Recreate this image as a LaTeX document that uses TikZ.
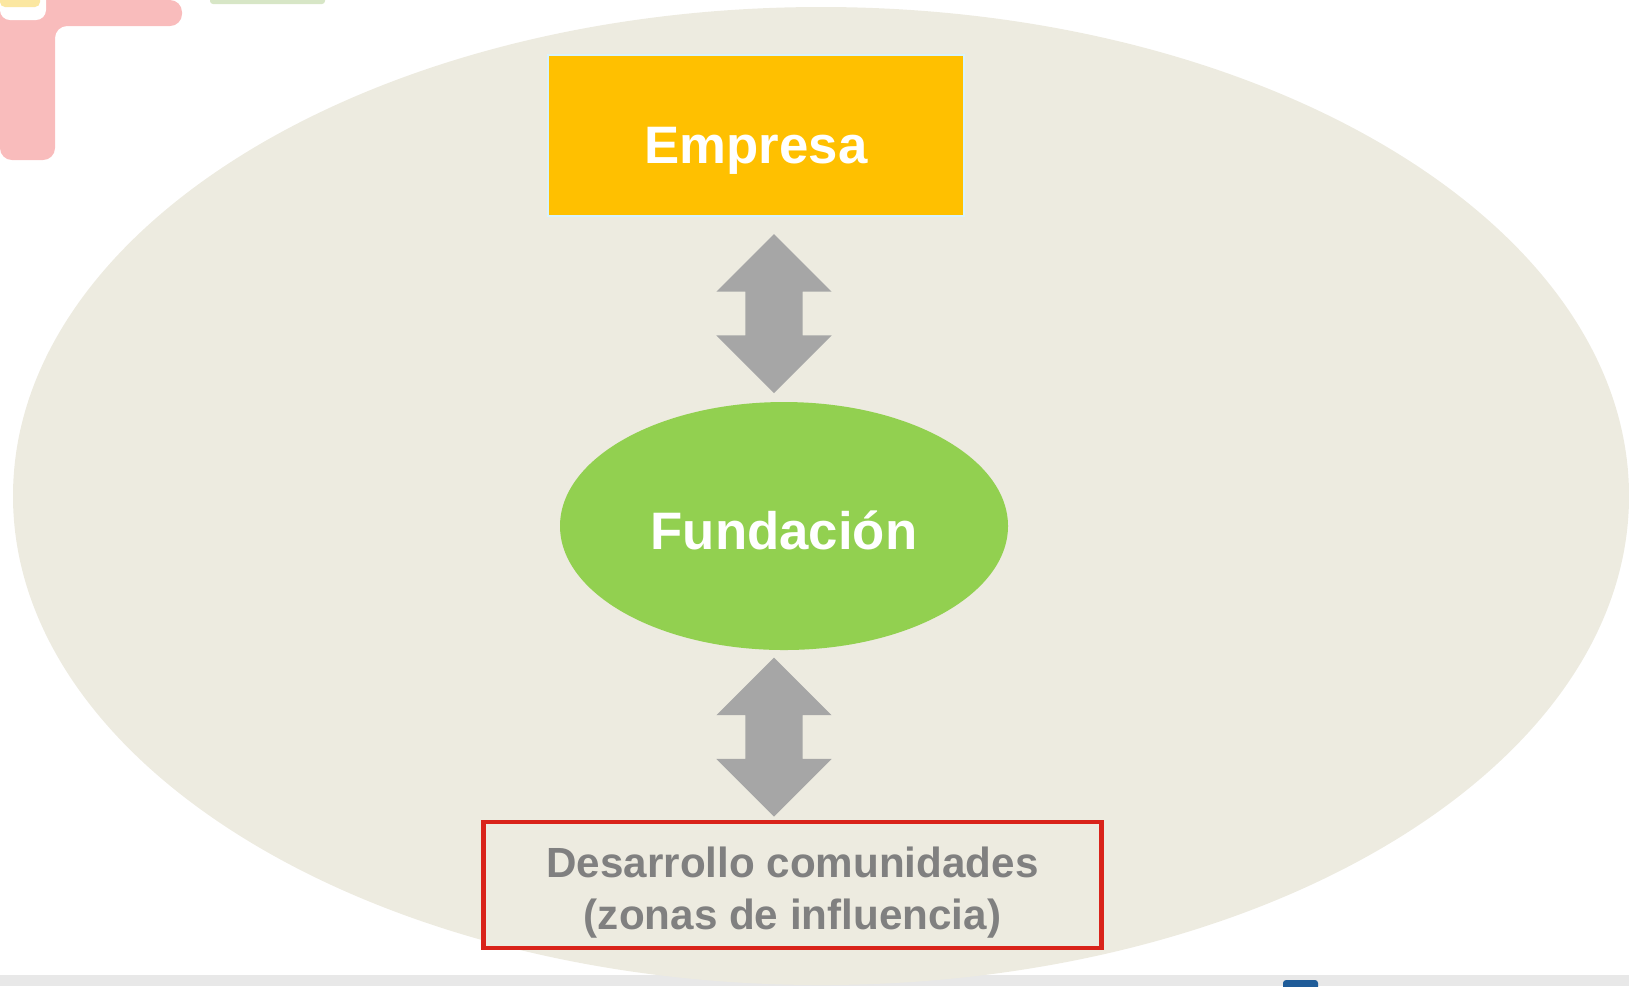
\documentclass[tikz,border=0pt]{standalone}
\usepackage{fontspec}
\setmainfont{Liberation Sans}
\usetikzlibrary{shapes.geometric,shapes.arrows}
\definecolor{beige}{HTML}{EDEBE0}
\definecolor{amber}{HTML}{FFC000}
\definecolor{leaf}{HTML}{92D050}
\definecolor{arrowgrey}{HTML}{A6A6A6}
\definecolor{boxred}{HTML}{D9231A}
\definecolor{textgrey}{HTML}{808080}
\definecolor{softpink}{HTML}{F9BCBC}
\definecolor{softyellow}{HTML}{FBE7A1}
\definecolor{softgreen}{HTML}{D7E6C6}
\definecolor{taskblue}{HTML}{1F5C99}
\begin{document}
\begin{tikzpicture}[
    biglabel/.style={text=white, font=\fontsize{15}{18}\selectfont\bfseries},
    twoway/.style={double arrow, fill=arrowgrey, draw=none, rotate=90,
      minimum height=1.59cm, minimum width=1.14cm,
      double arrow head extend=0.29cm, inner xsep=0pt, inner ysep=0.28cm}
  ]
  \useasboundingbox (0,0) rectangle (16.29,-9.86);
  % slide decoration
  \fill[softpink, rounded corners=0.12cm] (0,0) -- (1.82,0) -- (1.82,-0.26)
    -- (0.55,-0.26) -- (0.55,-1.60) -- (0,-1.60) -- cycle;
  \fill[white, rounded corners=0.1cm] (0,0.1) rectangle (0.46,-0.2);
  \fill[softyellow, rounded corners=0.05cm] (0,0.1) rectangle (0.40,-0.07);
  \fill[softgreen, rounded corners=0.03cm] (2.10,0.1) rectangle (3.25,-0.04);
  \fill[black!9] (0,-9.75) rectangle (16.29,-9.86);
  \fill[taskblue, rounded corners=0.03cm] (12.83,-9.80) rectangle (13.18,-9.90);
  % background oval
  \fill[beige] (8.21,-4.96) ellipse (8.08cm and 4.89cm);
  % nodes
  \node[biglabel, fill=amber, draw=cyan!15, minimum width=4.16cm, minimum height=1.61cm,
    text height=0.716em+0.3cm, text depth=0pt] (emp) at (7.56,-1.355) {Empresa};
  \node[biglabel, ellipse, fill=leaf, minimum width=4.48cm, minimum height=2.48cm,
    inner sep=0pt, text height=0.716em+0.22cm, text depth=0pt] (fund) at (7.84,-5.26) {Fundación};
  \node[draw=boxred, line width=0.045cm, fill=beige, minimum width=6.18cm, minimum height=1.19cm,
    inner ysep=0.1cm, align=center, text=textgrey, font=\fontsize{12}{14.8}\selectfont\bfseries]
    (desa) at (7.925,-8.85)
    {\rule{0pt}{0.45cm}Desarrollo comunidades\\(zonas de influencia)};
  % links
  \node[twoway] (up) at (7.74,-3.135) {};
  \node[twoway] (down) at (7.74,-7.37) {};
\end{tikzpicture}
\end{document}
